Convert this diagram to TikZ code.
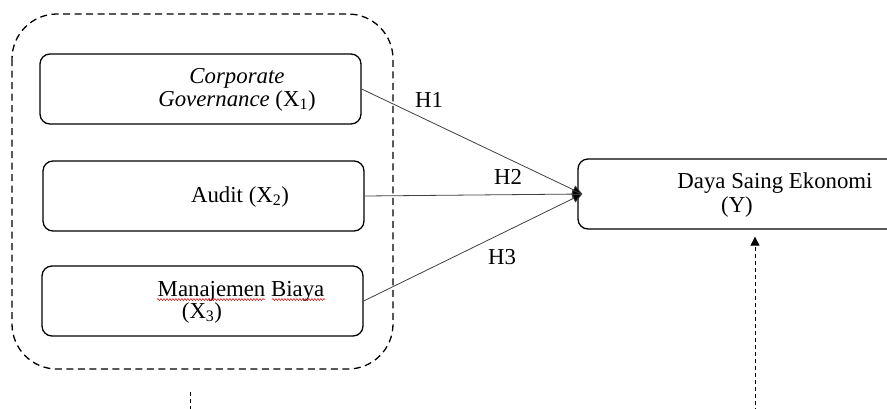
\documentclass[tikz,border=0pt]{standalone}
\usepackage{fontspec}
\setmainfont{Liberation Serif}
\usetikzlibrary{arrows.meta,decorations.pathmorphing}
\begin{document}
\begin{tikzpicture}[x=1pt,y=-1pt,
  box/.style={draw=black, line width=1.3pt, rounded corners=10pt, minimum width=321pt, minimum height=70pt, inner sep=0pt},
  txt/.style={font=\fontsize{22.8}{23}\selectfont, inner sep=0pt, align=center},
  conn/.style={draw=black!75, line width=0.8pt, -{Triangle[length=10pt,width=9pt,fill=black]}},
  grp/.style={draw=black, line width=1.3pt, dash pattern=on 7pt off 4.5pt, rounded corners=45pt},
  dasharrow/.style={draw=black, line width=0.9pt, dash pattern=on 4pt off 3pt, -{Triangle[length=9pt,width=9pt]}},
  dashline/.style={draw=black, line width=0.9pt, dash pattern=on 4pt off 3pt},
  spell/.style={draw=red!85!black, line width=0.5pt, decorate, decoration={snake, amplitude=1pt, segment length=3pt}}
]
\clip (0,0) rectangle (887,408);
% group frame
\draw[grp] (12,14) rectangle (393,369);
% boxes
\node[box] (b1) at (200.5,89) {};
\node[box] (b2) at (203.5,196) {};
\node[box] (b3) at (202.5,301) {};
\node[box, minimum width=354pt] (y) at (755,194) {};
% texts
\node[txt] (t1) at (237,89.5) {\textit{Corporate}\\\textit{Governance} (X\textsubscript{1})};
\node[txt] (t2) at (240,197) {Audit (X\textsubscript{2})};
\node[txt] (t3a) at (241,291) {Manajemen Biaya};
\node[txt] (t3b) at (202,313) {(X\textsubscript{3})};
\node[txt] (ty1) at (775,183) {Daya Saing Ekonomi};
\node[txt] (ty2) at (737,207) {(Y)};
% spell-check underlines
\draw[spell] (157,299.5) -- (265,299.5);
\draw[spell] (272,299.5) -- (325,299.5);
% connectors
\coordinate (yin) at ([xshift=5pt]y.west);
\draw[conn] (b1.east) -- (yin);
\draw[conn] (b2.east) -- (yin);
\draw[conn] (b3.east) -- (yin);
\node[txt] (h1) at (429,100) {H1};
\node[txt] (h2) at (508,177) {H2};
\node[txt] (h3) at (502,257) {H3};
% dashed arrows
\coordinate (ys) at (755,412);
\coordinate (yt) at ([yshift=-7pt]y.south);
\draw[dasharrow] (ys) -- (yt);
\coordinate (xa) at (190,392);
\coordinate (xb) at (190,412);
\draw[dashline] (xa) -- (xb);
\end{tikzpicture}
\end{document}
